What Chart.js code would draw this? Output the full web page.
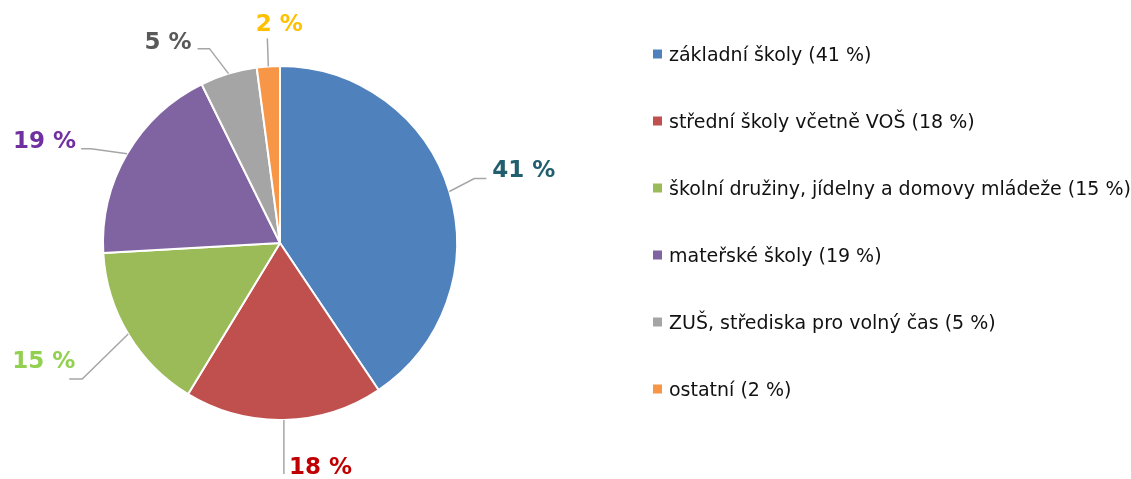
<!DOCTYPE html>
<html>
<head>
<meta charset="utf-8">
<script src="https://cdn.jsdelivr.net/npm/chart.js@4.4.0/dist/chart.umd.min.js"></script>
<style>
html,body{margin:0;padding:0;background:#fff;}
#wrap{position:relative;width:1131px;height:479px;}
</style>
</head>
<body>
<div id="wrap"><canvas id="c" width="1131" height="479"></canvas></div>
<script>
const categories = [
  'základní školy',
  'střední školy včetně VOŠ',
  'školní družiny, jídelny a domovy mládeže',
  'mateřské školy',
  'ZUŠ, střediska pro volný čas',
  'ostatní'
];
const values = [40.6, 18.1, 15.4, 18.6, 5.2, 2.1];
const valueLabels = ['41 %', '18 %', '15 %', '19 %', '5 %', '2 %'];

const sliceColors = ['#4F81BD', '#C0504D', '#9BBB59', '#8064A2', '#A5A5A5', '#F79646'];
const labelColors = ['#215F6E', '#C00000', '#92D050', '#7030A0', '#595959', '#FFC000'];

// leader-line layout (pixel offsets relative to the slice's outer mid-point)
const leaderLayout = [
  {pts: [[25, -13], [37, -13]], text: [43, -20], align: 'left'},
  {pts: [[0, 54]], text: [5, 48], align: 'left'},
  {pts: [[-46, 45], [-59, 45]], text: [-53, 28], align: 'right'},
  {pts: [[-36, -5], [-46, -5]], text: [-51, -12], align: 'right'},
  {pts: [[-19, -25], [-31, -25]], text: [-37, -31], align: 'right'},
  {pts: [[-1, -28]], text: [11, -41], align: 'center'}
];

const labelPlugin = {
  id: 'leaderLabels',
  afterDatasetsDraw(chart) {
    const ctx = chart.ctx;
    const meta = chart.getDatasetMeta(0);
    ctx.save();
    meta.data.forEach((arc, i) => {
      const p = arc.getProps(['x', 'y', 'startAngle', 'endAngle', 'outerRadius'], true);
      const mid = (p.startAngle + p.endAngle) / 2;
      const ax = p.x + Math.cos(mid) * p.outerRadius;
      const ay = p.y + Math.sin(mid) * p.outerRadius;
      const L = leaderLayout[i];
      ctx.beginPath();
      ctx.moveTo(ax, ay);
      L.pts.forEach(pt => ctx.lineTo(ax + pt[0], ay + pt[1]));
      ctx.strokeStyle = '#A6A6A6';
      ctx.lineWidth = 1.5;
      ctx.stroke();
      ctx.font = 'bold 23px "DejaVu Sans", sans-serif';
      ctx.fillStyle = labelColors[i];
      ctx.textAlign = L.align;
      ctx.textBaseline = 'middle';
      ctx.fillText(valueLabels[i], ax + L.text[0], ay + L.text[1]);
    });
    // legend
    const lx = 653, ly0 = 54, dy = 67;
    ctx.font = '19px "DejaVu Sans", sans-serif';
    ctx.textAlign = 'left';
    ctx.textBaseline = 'middle';
    categories.forEach((name, i) => {
      const y = ly0 + i * dy;
      ctx.fillStyle = sliceColors[i];
      ctx.fillRect(lx, y - 4.5, 9, 9);
      ctx.fillStyle = '#111111';
      ctx.fillText(name + ' (' + valueLabels[i] + ')', lx + 16, y + 2);
    });
    ctx.restore();
  }
};

new Chart(document.getElementById('c'), {
  type: 'pie',
  data: {
    labels: categories,
    datasets: [{
      data: values,
      backgroundColor: sliceColors,
      borderColor: '#FFFFFF',
      borderWidth: 2
    }]
  },
  options: {
    responsive: false,
    animation: false,
    layout: {padding: {left: 102, right: 673, top: 65, bottom: 58}},
    plugins: {legend: {display: false}, tooltip: {enabled: false}}
  },
  plugins: [labelPlugin]
});
</script>
</body>
</html>
